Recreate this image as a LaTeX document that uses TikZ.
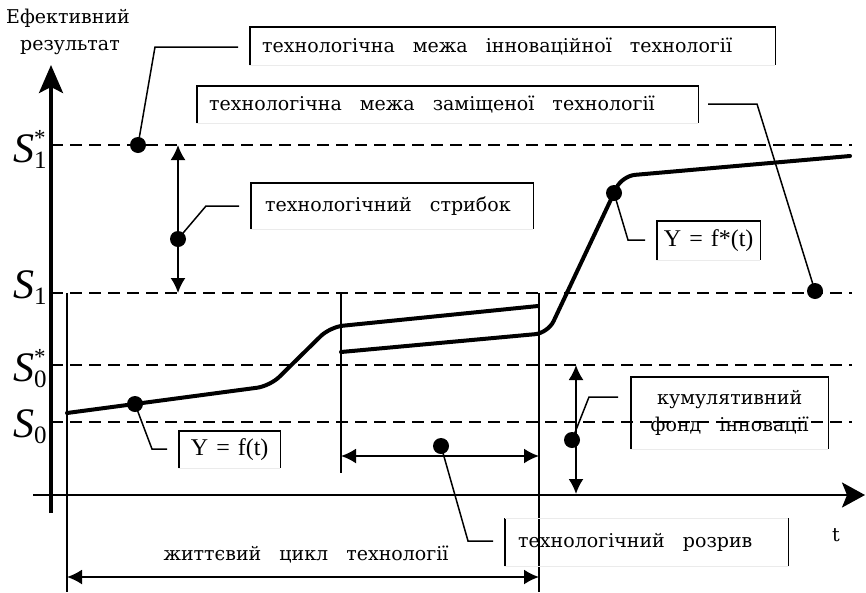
\documentclass[tikz,border=0pt]{standalone}
\usepackage{fontspec}
\setmainfont{DejaVu Serif}
\newfontfamily\tnr{Liberation Serif}
\usetikzlibrary{arrows.meta}
\newcommand\wg{\hspace{0.95em}}
\newcommand\Slab[2]{{\tnr\fontsize{42}{42}\selectfont\itshape S}\rlap{\raisebox{-6pt}{\tnr\fontsize{25}{25}\selectfont #1}}\raisebox{17pt}{\tnr\fontsize{23}{23}\selectfont #2}}
\tikzset{
 thinln/.style={line width=1.3pt},
 dashln/.style={line width=1.6pt, dash pattern=on 12pt off 7pt},
 curvel/.style={line width=4pt, rounded corners=13pt, line join=round, line cap=round},
 leader/.style={line width=1.5pt},
 dotn/.style={circle, fill, inner sep=0pt, minimum size=16pt},
 dbl/.style={line width=2pt, {Latex[length=15pt,width=15pt]}-{Latex[length=15pt,width=15pt]}},
 lbl/.style={inner sep=0pt, font=\fontsize{19}{23}\selectfont},
 boxn/.style={anchor=north west, inner ysep=0pt, font=\fontsize{19}{27}\selectfont},
 fbox/.style={anchor=north west, inner ysep=0pt, inner xsep=0pt, align=center, font=\tnr\fontsize{24}{26}\selectfont},
 border/.style={line width=1.5pt},
 faint/.style={line width=1pt, draw=black!8},
 slbl/.style={anchor=base west, inner sep=0pt},
}
\begin{document}
\begin{tikzpicture}[x=1pt,y=-1pt]
\useasboundingbox (0,0) rectangle (866,592);
% dashed levels
\foreach \yy in {145,293,365,422} \draw[dashln] (51,\yy) -- (852,\yy);
% level labels
\node[slbl] (s1s) at (13,162) {\Slab{1}{*}};
\node[slbl] (s1) at (13,298) {\Slab{1}{}};
\node[slbl] (s0s) at (13,381) {\Slab{0}{*}};
\node[slbl] (s0) at (13,437) {\Slab{0}{}};
% axes
\coordinate (ybot) at (51,513);
\coordinate (ytop) at (51,65);
\coordinate (xl) at (33,495);
\coordinate (xr) at (865,495);
\draw[line width=3.5pt, -{Stealth[length=28pt,width=24pt,inset=6pt]}] (ybot) -- (ytop);
\draw[line width=2.5pt, -{Stealth[length=23pt,width=25pt,inset=5pt]}] (xl) -- (xr);
\node[lbl, anchor=base] (ylab1) at (68,23) {Ефективний};
\node[lbl, anchor=base] (ylab2) at (70,50) {результат};
\node[lbl, anchor=base] (tlab) at (836,541) {t};
% thin verticals
\coordinate (v1t) at (67,293); \coordinate (v1b) at (67,592);
\coordinate (v2t) at (341,293); \coordinate (v2b) at (341,473);
\coordinate (v3t) at (539,293); \coordinate (v3b) at (539,592);
\draw[thinln] (v1t) -- (v1b);
\draw[thinln] (v2t) -- (v2b);
\draw[thinln] (v3t) -- (v3b);
% curves
\draw[curvel] (67,413) -- (270,386) -- (330,327) -- (538,306);
\draw[curvel] (341,352) -- (548,333) -- (622,176) -- (850,156);
% double arrows
\coordinate (a1t) at (178,145); \coordinate (a1b) at (178,293);
\coordinate (a2t) at (576,365); \coordinate (a2b) at (576,494);
\coordinate (a3l) at (341,456); \coordinate (a3r) at (539,456);
\coordinate (a4l) at (67,577); \coordinate (a4r) at (539,577);
\draw[dbl] (a1t) -- (a1b);
\draw[dbl] (a2t) -- (a2b);
\draw[dbl] (a3l) -- (a3r);
\draw[dbl] (a4l) -- (a4r);
\node[lbl, anchor=base] (life) at (306,560) {життєвий\wg цикл\wg технології};
% dots
\node[dotn] (d1) at (138,145) {};
\node[dotn] (d2) at (815,291) {};
\node[dotn] (d3) at (178,239) {};
\node[dotn] (d4) at (614,193) {};
\node[dotn] (d5) at (572,440) {};
\node[dotn] (d6) at (135,404) {};
\node[dotn] (d7) at (441,446) {};
% boxes
\node[boxn, minimum height=38pt, text width=501pt, inner xsep=12pt, align=left] (b1) at (250,27) {технологічна\wg межа\wg інноваційної\wg технології};
\node[boxn, minimum height=37pt, text width=477pt, inner xsep=12pt, align=left] (b2) at (197,86) {технологічна\wg межа\wg заміщеної\wg технології};
\node[boxn, minimum height=46pt, text width=254pt, inner xsep=14pt, align=left] (b3) at (251,183) {технологічний\wg стрибок};
\node[fbox, minimum height=39pt, text width=103pt] (b4) at (657,221) {Y = f*(t)};
\node[boxn, minimum height=72pt, text width=197pt, inner xsep=0pt, align=center] (b5) at (631,377) {кумулятивний\\фонд\wg інновації};
\node[fbox, minimum height=37pt, text width=101pt] (b6) at (179,431) {Y = f(t)};
\node[boxn, minimum height=48pt, text width=257pt, inner xsep=13pt, align=left] (b7) at (505,518) {технологічний\wg розрив};
\foreach \b in {b1,b2,b3,b4,b5,b6} {
  \draw[border] (\b.south west) -- (\b.north west) -- (\b.north east) -- (\b.south east);
  \draw[faint] (\b.south west) -- (\b.south east);
}
\draw[border] (b7.south west) -- (b7.north west);
\draw[border] (b7.south east) -- (b7.north east);
\draw[faint] (b7.south west) -- (b7.south east);
\draw[faint] (b7.north west) -- (b7.north east);
% leaders
\coordinate (l1a) at (155,47); \coordinate (l1b) at (238,47);
\coordinate (l2a) at (757,104); \coordinate (l2b) at (708,104);
\coordinate (l3a) at (206,206); \coordinate (l3b) at (239,206);
\coordinate (l4a) at (628,240); \coordinate (l4b) at (645,240);
\coordinate (l5a) at (589,397); \coordinate (l5b) at (618,397);
\coordinate (l6a) at (152,449); \coordinate (l6b) at (167,449);
\coordinate (l7a) at (468,541); \coordinate (l7b) at (493,541);
\draw[leader] (d1.center) -- (l1a) -- (l1b);
\draw[leader] (d2.center) -- (l2a) -- (l2b);
\draw[leader] (d3.center) -- (l3a) -- (l3b);
\draw[leader] (d4.center) -- (l4a) -- (l4b);
\draw[leader] (d5.center) -- (l5a) -- (l5b);
\draw[leader] (d6.center) -- (l6a) -- (l6b);
\draw[leader] (d7.center) -- (l7a) -- (l7b);
\end{tikzpicture}
\end{document}
